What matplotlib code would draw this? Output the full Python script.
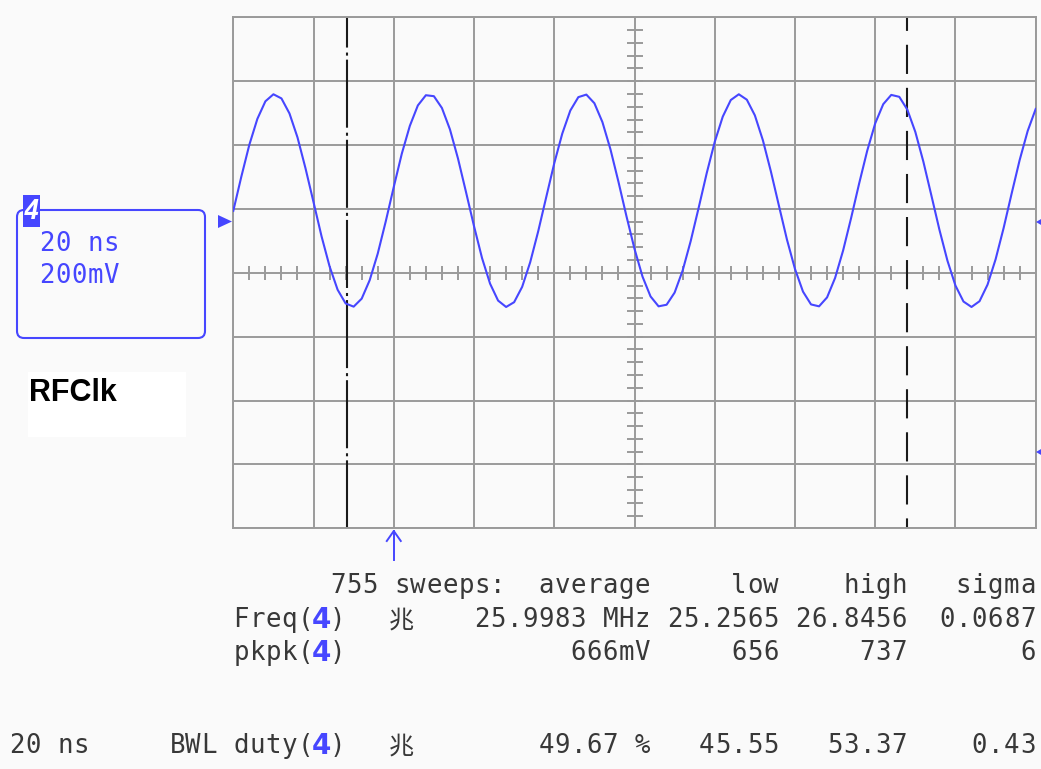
import numpy as np
import matplotlib

matplotlib.use("Agg")
import matplotlib.pyplot as plt
from matplotlib.patches import FancyBboxPatch, Rectangle, Polygon

plt.rcParams["lines.scale_dashes"] = False

# channel 4 trace, every 2 ns (mV)
TIME_STEP_NS = 2
TRACE_MV = [194, 301, 401, 482, 537, 559, 546, 499, 424, 327,
            221, 114, 20, -53, -96, -106, -81, -23, 60, 161,
            269, 373, 460, 524, 556, 553, 516, 449, 358, 253,
            146, 46, -34, -87, -107, -92, -44, 33, 130, 237,
            343, 436, 508, 550, 558, 531, 472, 387, 285, 177,
            75, -12, -74, -105, -100, -62, 7, 99, 204, 312,
            410, 489, 541, 559, 542, 493, 415, 317, 210, 104,
            12, -59, -99, -105, -77, -16, 70, 172, 280, 382,
            468, 528, 557, 551, 511, 441, 348, 242, 135, 38,
            -40, -90, -107, -89, -37, 42, 140, 248, 353, 444,
            513]
CURSORS_NS = [28.3, 168.0]
TRIGGER_NS = 40
NS_PER_DIV = 20
MV_PER_DIV = 200

CHANNEL = "4"
TIMEBASE = "20 ns"
VOLTS_DIV = "200mV"
LABEL = "RFClk"
SWEEPS = 755

PARAMS = ["Freq", "pkpk", "duty"]
HAS_SYMBOL = [True, False, True]
AVERAGE = ["25.9983 MHz", "666mV", "49.67 %"]
LOW = ["25.2565", "656", "45.55"]
HIGH = ["26.8456", "737", "53.37"]
SIGMA = ["0.0687", "6", "0.43"]

BLUE = "#4646ff"
TXT = "#383838"
GRID = "#9a9a9a"
BG = "#fafafa"
W, H = 1041, 769

fig = plt.figure(figsize=(W / 100, H / 100), dpi=100, facecolor=BG)

# --- scope screen ---
gx0, gx1, gy0, gy1 = 233.3, 1035.7, 17.3, 528.3
ax = fig.add_axes([gx0 / W, (H - gy1) / H, (gx1 - gx0) / W, (gy1 - gy0) / H])
ax.set_facecolor(BG)
ax.set_xlim(0, 10 * NS_PER_DIV)
ax.set_ylim(-4 * MV_PER_DIV, 4 * MV_PER_DIV)
ax.set_xticks(np.arange(0, 10 * NS_PER_DIV + 1, NS_PER_DIV))
ax.set_yticks(np.arange(-4 * MV_PER_DIV, 4 * MV_PER_DIV + 1, MV_PER_DIV))
ax.tick_params(length=0, labelbottom=False, labelleft=False)
ax.grid(True, color=GRID, lw=1.4)
for s in ax.spines.values():
    s.set_color(GRID)
    s.set_linewidth(1.4)

# minor ticks on the centre cross (5 per division)
px_x = (gx1 - gx0) / (10 * NS_PER_DIV)   # px per ns
px_y = (gy1 - gy0) / (8 * MV_PER_DIV)    # px per mV
ax.vlines(np.arange(0, 10 * NS_PER_DIV, NS_PER_DIV / 5), -7 / px_y, 7 / px_y,
          color=GRID, lw=1.4)
ax.hlines(np.arange(-4 * MV_PER_DIV, 4 * MV_PER_DIV, MV_PER_DIV / 5),
          5 * NS_PER_DIV - 8 / px_x, 5 * NS_PER_DIV + 8 / px_x, color=GRID, lw=1.4)

# cursors
top, bot = 4 * MV_PER_DIV, -4 * MV_PER_DIV
ax.plot([CURSORS_NS[0]] * 2, [top, bot], color="#1a1a1a", lw=1.5,
        linestyle=(27, (49, 3.6, 2.2, 2.9)))
ax.plot([CURSORS_NS[1]] * 2, [top, bot], color="#1a1a1a", lw=1.5,
        linestyle=(11, (21, 10)))

t = np.arange(len(TRACE_MV)) * TIME_STEP_NS
ax.plot(t, TRACE_MV, color=BLUE, lw=1.5, zorder=5)

# --- overlay in pixel coordinates ---
ov = fig.add_axes([0, 0, 1, 1], zorder=10)
ov.set_xlim(0, W)
ov.set_ylim(H, 0)
ov.axis("off")

CW = (gx1 - gx0) / 50  # character cell width


def mono(x, y, s, color=TXT, **kw):
    for i, ch in enumerate(s):
        if ch != " ":
            ov.text(x + (i + 0.5) * CW, y, ch, ha="center", va="baseline",
                    family="DejaVu Sans Mono", fontsize=18.5, color=color, **kw)


def col(c):
    return gx0 + c * CW


def rjust(end_col, y, s):
    mono(col(end_col - len(s) + 1), y, s)


def symbol(y):
    ov.text(col(10) + CW / 2, y + 1, "兆", ha="center", va="baseline",
            family="Noto Sans CJK JP", fontsize=18, color=TXT)


# channel box
ov.add_patch(FancyBboxPatch((17, 210), 188, 128, boxstyle="round,pad=0,rounding_size=7",
                            fill=False, ec=BLUE, lw=1.5))
ov.add_patch(Rectangle((23, 195), 17, 32, color=BLUE, lw=0))
ov.text(31.5, 212, CHANNEL, ha="center", va="center", color="white",
        fontsize=19, fontweight="bold", style="italic", family="DejaVu Sans Mono")
mono(39, 251, TIMEBASE, color=BLUE)
mono(39, 283, VOLTS_DIV, color=BLUE)

# label
ov.add_patch(Rectangle((28, 372), 158, 65, color="white", lw=0))
ov.text(29, 401, LABEL, ha="left", va="baseline", family="Liberation Sans",
        fontweight="bold", fontsize=22, color="black")

# level markers
ov.add_patch(Polygon([(218, 215), (218, 228), (232, 221.5)], color=BLUE, lw=0))
ov.add_patch(Polygon([(1036, 222), (1048, 215), (1048, 229)], color=BLUE, lw=0))
ov.add_patch(Polygon([(1036, 452), (1048, 445), (1048, 459)], color=BLUE, lw=0))

# trigger arrow
xa = gx0 + TRIGGER_NS * px_x
ov.plot([xa, xa], [531, 560], color=BLUE, lw=1.4)
ov.plot([xa - 7, xa, xa + 7], [541, 531, 541], color=BLUE, lw=1.4)

# measurement table
mono(col(6), 593, f"{SWEEPS} sweeps:")
for end, head in zip([25, 33, 41, 49], ["average", "low", "high", "sigma"]):
    rjust(end, 593, head)
for i, (name, y) in enumerate(zip(PARAMS, [627, 660, 753])):
    mono(col(0), y, name + "(")
    ov.text(col(len(name) + 1) + CW / 2, y + 1, CHANNEL, ha="center", va="baseline",
            family="DejaVu Sans", fontweight="bold", fontsize=20, color=BLUE)
    mono(col(len(name) + 2), y, ")")
    if HAS_SYMBOL[i]:
        symbol(y)
    rjust(25, y, AVERAGE[i])
    rjust(33, y, LOW[i])
    rjust(41, y, HIGH[i])
    rjust(49, y, SIGMA[i])
mono(col(-14), 753, TIMEBASE)
mono(col(-4), 753, "BWL")

fig.savefig("out.png", dpi=100, facecolor=BG)
